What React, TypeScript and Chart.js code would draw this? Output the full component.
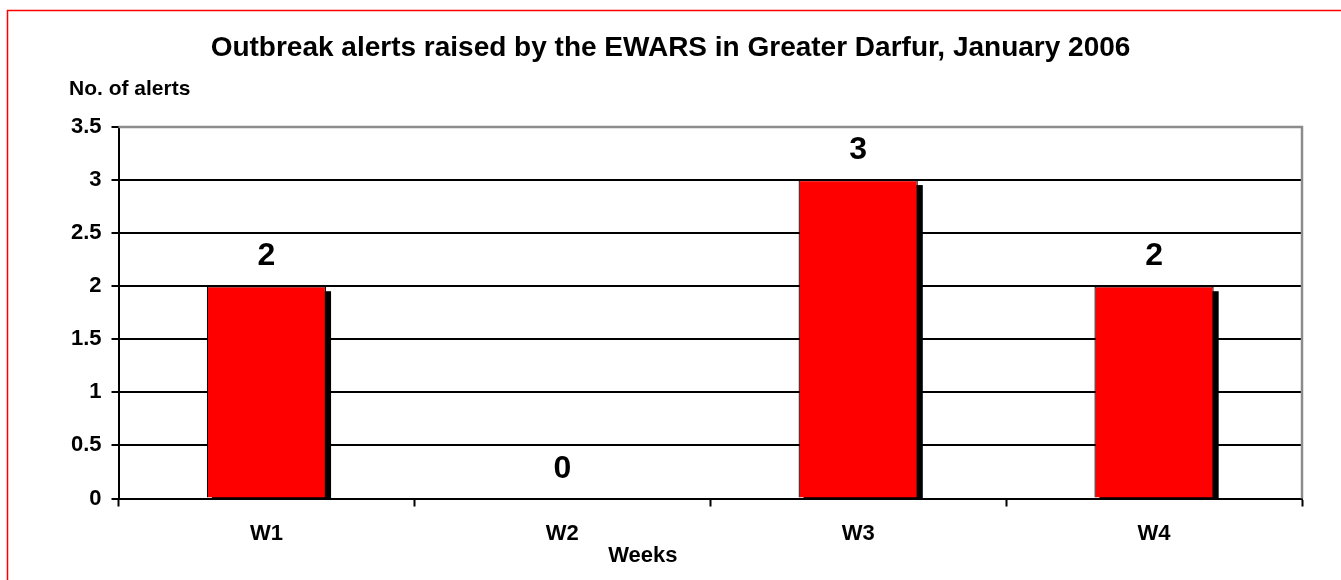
import React, { useEffect, useRef } from "react";
import { Chart, registerables } from "chart.js";

Chart.register(...registerables);

const categories = ["W1", "W2", "W3", "W4"];
const alerts = [2, 0, 3, 2];
const yTicks = [0, 0.5, 1, 1.5, 2, 2.5, 3, 3.5];
const titleText = "Outbreak alerts raised by the EWARS in Greater Darfur, January 2006";
const yAxisTitle = "No. of alerts";
const xAxisTitle = "Weeks";

const FONT = '"Liberation Sans", Arial, sans-serif';

const decorPlugin = {
  id: "decor",
  beforeDraw(chart: any) {
    const ctx = chart.ctx;
    ctx.save();
    ctx.fillStyle = "#ffffff";
    ctx.fillRect(0, 0, chart.width, chart.height);
    ctx.strokeStyle = "#ff0000";
    ctx.lineWidth = 1.5;
    ctx.beginPath();
    ctx.moveTo(7.5, chart.height + 5);
    ctx.lineTo(7.5, 10.5);
    ctx.lineTo(chart.width + 5, 10.5);
    ctx.stroke();
    ctx.restore();
  },
  beforeDatasetsDraw(chart: any) {
    const ctx = chart.ctx;
    const area = chart.chartArea;
    const meta = chart.getDatasetMeta(0);
    ctx.save();
    ctx.beginPath();
    ctx.rect(area.left, area.top - 10, area.right - area.left, area.bottom - area.top + 10);
    ctx.clip();
    ctx.fillStyle = "#000000";
    meta.data.forEach((bar: any, i: number) => {
      if (alerts[i] <= 0) return;
      const left = bar.x - bar.width / 2;
      const top = bar.y;
      ctx.fillRect(left + 5, top + 5, bar.width, bar.base - top);
    });
    ctx.restore();
    // gray plot border (top & right)
    ctx.save();
    ctx.strokeStyle = "#8c8c8c";
    ctx.lineWidth = 2.5;
    ctx.beginPath();
    ctx.moveTo(area.left, area.top);
    ctx.lineTo(area.right, area.top);
    ctx.lineTo(area.right, area.bottom);
    ctx.stroke();
    ctx.restore();
  },
  afterDraw(chart: any) {
    const ctx = chart.ctx;
    const meta = chart.getDatasetMeta(0);
    ctx.save();
    ctx.fillStyle = "#000000";
    ctx.textAlign = "center";
    ctx.textBaseline = "alphabetic";
    ctx.font = `bold 32px ${FONT}`;
    meta.data.forEach((bar: any, i: number) => {
      ctx.fillText(String(alerts[i]), bar.x, bar.y - 21);
    });
    ctx.font = `bold 28px ${FONT}`;
    ctx.fillText(titleText, chart.width / 2, 56);
    ctx.font = `bold 21px ${FONT}`;
    ctx.textAlign = "left";
    ctx.fillText(yAxisTitle, 69, 95);
    ctx.textAlign = "center";
    ctx.font = `bold 22px ${FONT}`;
    const area = chart.chartArea;
    ctx.fillText(xAxisTitle, area.left + (area.right - area.left) * 0.443, 562);
    ctx.restore();
  },
};

export default function App() {
  const ref = useRef<HTMLCanvasElement | null>(null);

  useEffect(() => {
    if (!ref.current) return;
    const chart = new Chart(ref.current, {
      type: "bar",
      data: {
        labels: categories,
        datasets: [
          {
            data: alerts,
            backgroundColor: "#ff0000",
            borderColor: "#000000",
            borderWidth: 1.2,
            barPercentage: 0.403,
            categoryPercentage: 1,
          },
        ],
      },
      options: {
        responsive: false,
        animation: false,
        layout: { padding: { left: 0, top: 127, right: 39, bottom: 0 } },
        plugins: {
          legend: { display: false },
          title: { display: false },
          tooltip: { enabled: false },
        },
        scales: {
          x: {
            afterFit: (s: any) => {
              s.height = 81.5;
            },
            grid: {
              offset: true,
              drawOnChartArea: false,
              drawTicks: true,
              tickLength: 8,
              tickColor: "#000000",
              tickWidth: 2,
            },
            border: { display: true, color: "#000000", width: 2 },
            ticks: {
              color: "#000000",
              padding: 14,
              font: { family: FONT, size: 22, weight: "bold" },
            },
          },
          y: {
            min: 0,
            max: 3.5,
            afterFit: (s: any) => {
              s.width = 118.5;
            },
            afterBuildTicks: (s: any) => {
              s.ticks = yTicks.map((v) => ({ value: v }));
            },
            grid: {
              color: (c: any) => (c.tick && c.tick.value === 3.5 ? "rgba(0,0,0,0)" : "#000000"),
              lineWidth: 2,
              tickLength: 7,
              tickColor: "#000000",
              tickWidth: 2,
            },
            border: { display: true, color: "#000000", width: 2 },
            ticks: {
              color: "#000000",
              padding: 10,
              font: { family: FONT, size: 22, weight: "bold" },
              callback: (v: any) => String(v),
            },
          },
        },
      },
      plugins: [decorPlugin],
    });
    return () => chart.destroy();
  }, []);

  return (
    <div style={{ position: "absolute", left: 0, top: 0, width: 1341, height: 580 }}>
      <canvas ref={ref} width={1341} height={580} style={{ width: 1341, height: 580, display: "block" }} />
    </div>
  );
}
